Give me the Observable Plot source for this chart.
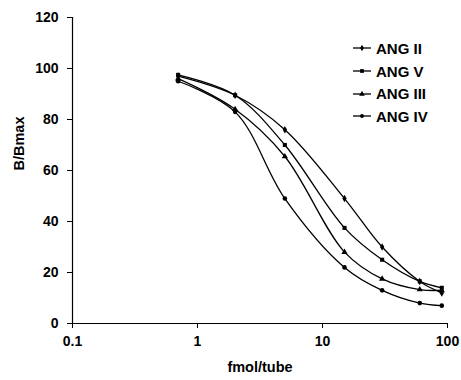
<!DOCTYPE html>
<html>
<head>
<meta charset="utf-8">
<script src="https://cdn.jsdelivr.net/npm/d3@7"></script>
<script src="https://cdn.jsdelivr.net/npm/@observablehq/plot@0.6"></script>
<style>
  html, body { margin: 0; padding: 0; background: #fff; }
  #wrap { position: relative; width: 461px; height: 380px; font-family: "Liberation Sans", Arial, sans-serif; }
  #legend { position: absolute; left: 352px; top: 37px; font-weight: bold; font-size: 15px; }
  .li { display: flex; align-items: center; height: 22.7px; }
  .li svg { margin-right: 4px; }
</style>
</head>
<body>
<div id="wrap"><div id="legend"></div></div>
<script>
const series = ["ANG II", "ANG V", "ANG III", "ANG IV"];
const symbols = ["diamond", "square", "triangle", "circle"];
const doses = [0.7, 2, 5, 15, 30, 60, 90];
const angII  = [97, 89.5, 76, 49, 30, 16.5, 12];
const angV   = [97.5, 89.5, 70, 37.5, 25, 16.5, 14];
const angIII = [96, 84, 65.5, 28, 17.5, 13.3, 13];
const angIV  = [95, 83, 49, 22, 13, 8, 7];
const yTicks = [0, 20, 40, 60, 80, 100, 120];
const xTicks = [0.1, 1, 10, 100];

const valuesBySeries = [angII, angV, angIII, angIV];
const data = [];
series.forEach((s, i) => doses.forEach((d, j) => data.push({series: s, dose: d, value: valuesBySeries[i][j]})));

const chart = Plot.plot({
  width: 461,
  height: 380,
  marginLeft: 72,
  marginRight: 14,
  marginTop: 17,
  marginBottom: 57,
  style: {fontFamily: "Liberation Sans, Arial, sans-serif", fontSize: "14px", fontWeight: "bold", color: "#000", background: "#fff"},
  x: {type: "log", domain: [0.1, 100]},
  y: {domain: [0, 120]},
  symbol: {domain: series, range: symbols},
  marks: [
    Plot.axisX({ticks: xTicks, tickFormat: d => String(d), tickSize: 5, tickPadding: 8, label: null, fontSize: 14}),
    Plot.axisY({ticks: yTicks, tickSize: 5, tickPadding: 9, label: null, fontSize: 14}),
    Plot.ruleY([0], {stroke: "#000", strokeWidth: 1.2}),
    Plot.ruleX([0.1], {stroke: "#000", strokeWidth: 1.2}),
    Plot.text(["fmol/tube"], {frameAnchor: "bottom", dy: 48, fontSize: 14.5, fontWeight: "bold", text: d => d}),
    Plot.text(["B/Bmax"], {frameAnchor: "left", dx: -53, rotate: -90, fontSize: 14.5, fontWeight: "bold", text: d => d}),
    Plot.line(data, {x: "dose", y: "value", z: "series", curve: "catmull-rom", stroke: "#000", strokeWidth: 1.3}),
    Plot.dot(data, {x: "dose", y: "value", symbol: "series", fill: "#000", stroke: "none", r: 2.3})
  ]
});
document.getElementById("wrap").prepend(chart);

const legend = document.getElementById("legend");
const symbolPaths = {
  "diamond": d3.symbol(d3.symbolDiamond, 12)(),
  "square": d3.symbol(d3.symbolSquare, 14)(),
  "triangle": d3.symbol(d3.symbolTriangle, 14)(),
  "circle": d3.symbol(d3.symbolCircle, 12)()
};
series.forEach((s, i) => {
  const row = document.createElement("div");
  row.className = "li";
  row.innerHTML = `<svg width="20" height="10"><line x1="1" x2="19" y1="5" y2="5" stroke="#000" stroke-width="1.3"/><path transform="translate(10,5)" d="${symbolPaths[symbols[i]]}" fill="#000"/></svg><span>${s}</span>`;
  legend.appendChild(row);
});
</script>
</body>
</html>
